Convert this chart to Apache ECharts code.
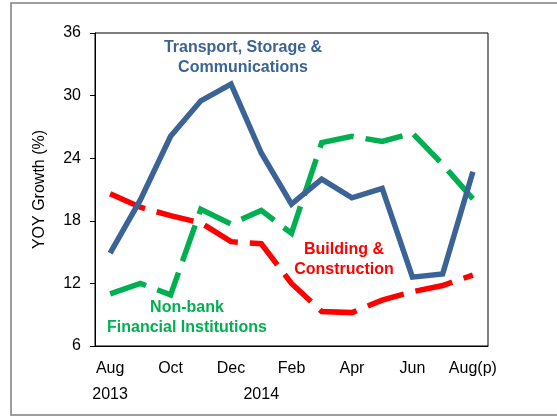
<!DOCTYPE html>
<html lang="en">
<head>
    <meta charset="UTF-8" />
    <title>YOY Growth</title>
    <script src="https://cdn.jsdelivr.net/npm/echarts@6/dist/echarts.min.js"></script>
</head>
<style>
    * {
        margin: 0;
        padding: 0;
    }

    #main {
        width: 557px;
        height: 417px;
    }
</style>
<body>
    <div id="main"></div>
</body>
<script>
    // months Aug 2013 .. Aug 2014
    const months = ["Aug", "Sep", "Oct", "Nov", "Dec", "Jan", "Feb", "Mar", "Apr", "May", "Jun", "Jul", "Aug(p)"];
    const monthLabels = ["Aug", "", "Oct", "", "Dec", "", "Feb", "", "Apr", "", "Jun", "", "Aug(p)"];
    const yearLabels = ["2013", "", "", "", "", "2014", "", "", "", "", "", "", ""];
    const transport = [14.9, 20.0, 26.1, 29.5, 31.1, 24.5, 19.6, 22.0, 20.2, 21.1, 12.6, 12.9, 22.7];
    const building = [20.6, 19.3, 18.5, 17.8, 16.0, 15.8, 12.0, 9.3, 9.2, 10.4, 11.2, 11.8, 12.8];
    const nonbank = [11.0, 12.0, 10.9, 19.1, 17.7, 19.0, 16.8, 25.5, 26.1, 25.6, 26.4, 23.4, 20.1];
    const yTicks = [6, 12, 18, 24, 30, 36];

    const blue = "#3B6396";
    const red = "#FF0000";
    const green = "#00B050";
    const font = "Liberation Sans, Arial, sans-serif";

    var myChart = echarts.init(document.getElementById("main"));
    var option = {
        animation: false,
        backgroundColor: "#fff",
        grid: {
            left: 95,
            right: 69,
            top: 33,
            bottom: 71,
            show: true,
            borderColor: "#000",
            borderWidth: 1,
        },
        xAxis: [
            {
                type: "category",
                data: months,
                boundaryGap: true,
                axisLine: { lineStyle: { color: "#000", width: 1 } },
                axisTick: { alignWithLabel: true, length: 4, lineStyle: { color: "#000" } },
                axisLabel: {
                    interval: 0,
                    color: "#000",
                    fontSize: 16,
                    fontFamily: font,
                    lineHeight: 26,
                    margin: 10,
                    formatter: function (v, i) {
                        return monthLabels[i] + "\n" + yearLabels[i];
                    },
                },
            },
            {
                type: "category",
                data: months,
                position: "bottom",
                boundaryGap: true,
                axisLine: { show: false },
                axisTick: { alignWithLabel: true, inside: true, length: 3, lineStyle: { color: "#000" } },
                axisLabel: { show: false },
            },
        ],
        yAxis: {
            type: "value",
            min: yTicks[0],
            max: yTicks[yTicks.length - 1],
            interval: 6,
            name: "YOY Growth (%)",
            nameLocation: "middle",
            nameGap: 47,
            nameTextStyle: { color: "#000", fontSize: 16, fontFamily: font },
            axisLine: { show: true, lineStyle: { color: "#000", width: 1 } },
            axisTick: { show: true, length: 5, lineStyle: { color: "#000" } },
            splitLine: { show: false },
            axisLabel: { color: "#000", fontSize: 16, fontFamily: font, margin: 14 },
        },
        series: [
            {
                name: "Building & Construction",
                type: "line",
                data: building,
                symbol: "none",
                lineStyle: { color: red, width: 5.5, type: [38, 12], cap: "butt", join: "miter" },
            },
            {
                name: "Non-bank Financial Institutions",
                type: "line",
                data: nonbank,
                symbol: "none",
                lineStyle: { color: green, width: 5.5, type: [38, 12], cap: "butt", join: "miter" },
            },
            {
                name: "Transport, Storage & Communications",
                type: "line",
                data: transport,
                symbol: "none",
                lineStyle: { color: blue, width: 5.5, join: "miter" },
            },
        ],
        graphic: [
            {
                type: "rect",
                shape: { x: 11, y: 3, width: 560, height: 412 },
                style: { fill: null, stroke: "#7f7f7f", lineWidth: 1.5 },
                silent: true,
            },
            {
                type: "text",
                x: 243,
                y: 58,
                style: {
                    text: "Transport, Storage &\nCommunications",
                    fill: blue,
                    font: "bold 16px " + font,
                    align: "center",
                    verticalAlign: "middle",
                    lineHeight: 20,
                },
            },
            {
                type: "text",
                x: 344,
                y: 260,
                style: {
                    text: "Building &\nConstruction",
                    fill: red,
                    font: "bold 16px " + font,
                    align: "center",
                    verticalAlign: "middle",
                    lineHeight: 20,
                },
            },
            {
                type: "text",
                x: 187,
                y: 318,
                style: {
                    text: "Non-bank\nFinancial Institutions",
                    fill: green,
                    font: "bold 16px " + font,
                    align: "center",
                    verticalAlign: "middle",
                    lineHeight: 20,
                },
            },
        ],
    };
    option && myChart.setOption(option);
</script>
</html>
